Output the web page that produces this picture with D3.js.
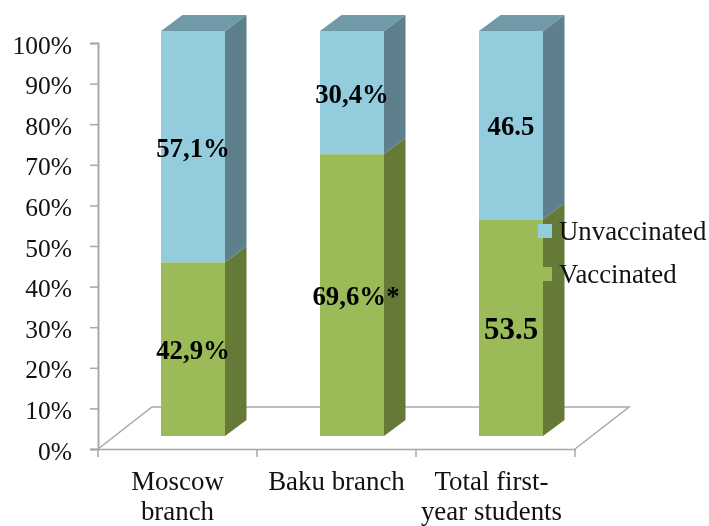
<!DOCTYPE html>
<html>
<head>
<meta charset="utf-8">
<script src="https://d3js.org/d3.v7.min.js"></script>
<style>
html,body{margin:0;padding:0;background:#fff}
svg{display:block;filter:blur(0.45px)}
text{font-family:"Liberation Serif",serif;fill:#111}
</style>
</head>
<body>
<svg id="c" width="709" height="526"></svg>
<script>
const categories = ["Moscow branch", "Baku branch", "Total first-year students"];
const categoryLines = [["Moscow", "branch"], ["Baku branch"], ["Total first-", "year students"]];
const vaccinated = [42.9, 69.6, 53.5];
const unvaccinated = [57.1, 30.4, 46.5];
const vaccinatedLabels = ["42,9%", "69,6%*", "53.5"];
const unvaccinatedLabels = ["57,1%", "30,4%", "46.5"];
const yTicks = [0, 10, 20, 30, 40, 50, 60, 70, 80, 90, 100];
const seriesNames = ["Unvaccinated", "Vaccinated"];

const svg = d3.select("#c");
const axisY = d3.scaleLinear().domain([0, 100]).range([449, 43]);
const barY = d3.scaleLinear().domain([0, 100]).range([436, 31]);
const band = d3.scaleBand().domain(categories).range([98, 575]);
const barW = 64, depthX = 21.5, depthY = 16, barShift = 15.5;
const floorDX = 54, floorDY = 42;
const grey = "#a8a8a8";
const colors = {
  Vaccinated: {front: "#9BBB59", side: "#667A37"},
  Unvaccinated: {front: "#93CDDD", side: "#5D808C", top: "#709AA8"}
};

// floor
const x0 = band.range()[0], x1 = band.range()[1], yb = axisY(0);
svg.append("path")
  .attr("d", d3.line()([[x0, yb], [x0 + floorDX, yb - floorDY], [x1 + floorDX, yb - floorDY], [x1, yb]]))
  .attr("fill", "none").attr("stroke", grey).attr("stroke-width", 1.5);

// y axis
const gy = svg.append("g").attr("transform", `translate(${x0},0)`)
  .call(d3.axisLeft(axisY).tickValues(yTicks).tickSize(8).tickPadding(18).tickFormat(d => d + "%"));
gy.select(".domain").attr("stroke", grey).attr("stroke-width", 2);
gy.selectAll(".tick line").attr("stroke", grey).attr("stroke-width", 1.5);
gy.selectAll(".tick text").style("font-size", "25.5px").attr("dy", "10px").attr("fill", "#111")
  .style("font-family", '"Liberation Serif",serif');

// x axis
const gx = svg.append("g").attr("transform", `translate(0,${yb})`)
  .call(d3.axisBottom(band).tickSize(0).tickFormat(""));
gx.select(".domain").attr("stroke", grey).attr("stroke-width", 1.5);
gx.selectAll(".edge").data(d3.range(categories.length + 1)).join("line")
  .attr("class", "edge")
  .attr("x1", i => x0 + i * band.step()).attr("x2", i => x0 + i * band.step())
  .attr("y1", 0).attr("y2", 8).attr("stroke", grey).attr("stroke-width", 1.5);

const catText = svg.selectAll(".cat").data(categories).join("text")
  .attr("class", "cat").attr("text-anchor", "middle").style("font-size", "26.9px");
catText.each(function (d, i) {
  const cx = band(d) + band.bandwidth() / 2 + (i === 2 ? -4 : 0);
  d3.select(this).selectAll("tspan").data(categoryLines[i]).join("tspan")
    .attr("x", cx).attr("y", (l, j) => 490 + j * 30).text(l => l);
});

// bars
const stacks = categories.map((c, i) => ({
  c, i,
  segs: [
    {name: "Vaccinated", from: 0, to: vaccinated[i], label: vaccinatedLabels[i]},
    {name: "Unvaccinated", from: vaccinated[i], to: vaccinated[i] + unvaccinated[i], label: unvaccinatedLabels[i]}
  ]
}));
const line = d3.line();
stacks.forEach(s => {
  const xl = band(s.c) + band.bandwidth() / 2 + barShift - barW / 2;
  const xr = xl + barW;
  const g = svg.append("g");
  s.segs.forEach(seg => {
    const yTop = barY(seg.to), yBot = barY(seg.from), col = colors[seg.name];
    g.append("path").attr("fill", col.side)
      .attr("d", line([[xr, yBot], [xr + depthX, yBot - depthY], [xr + depthX, yTop - depthY], [xr, yTop]]) + "Z");
    g.append("rect").attr("x", xl).attr("y", yTop).attr("width", barW).attr("height", yBot - yTop).attr("fill", col.front);
    if (col.top) {
      g.append("path").attr("fill", col.top)
        .attr("d", line([[xl, yTop], [xl + depthX, yTop - depthY], [xr + depthX, yTop - depthY], [xr, yTop]]) + "Z");
    }
  });
});

// value labels
stacks.forEach(s => s.segs.forEach(seg => {
  const big = seg.label === "53.5";
  const star = seg.label.endsWith("*");
  svg.append("text")
    .attr("x", band(s.c) + band.bandwidth() / 2 + barShift + (star ? 4 : 0))
    .attr("y", barY((seg.from + seg.to) / 2) + (big ? 11 : 10))
    .attr("text-anchor", "middle")
    .style("font-size", big ? "31px" : "26.8px")
    .style("font-weight", "bold").style("fill", "#000")
    .text(seg.label);
}));

// legend
const legend = svg.selectAll(".lg").data(seriesNames).join("g").attr("class", "lg")
  .attr("transform", (d, i) => `translate(538,${224 + i * 43})`);
legend.append("rect").attr("width", 14).attr("height", 14).attr("fill", d => colors[d].front);
legend.append("text").attr("x", 21).attr("y", 16).style("font-size", "26.8px").text(d => d);
</script>
</body>
</html>
